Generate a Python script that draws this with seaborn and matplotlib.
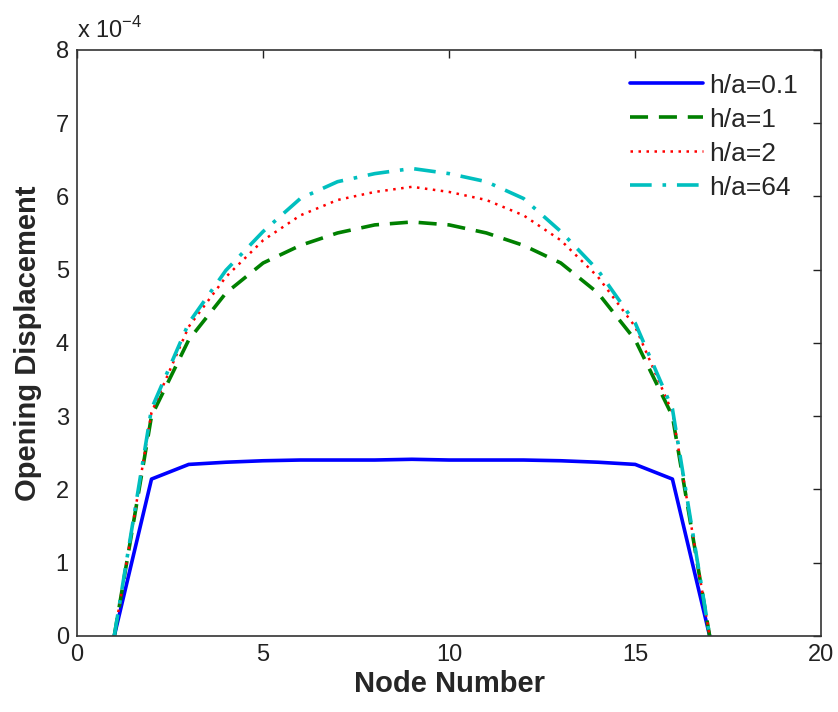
import numpy as np
import pandas as pd
import matplotlib
matplotlib.use("Agg")
import matplotlib.pyplot as plt
import seaborn as sns

nodes = list(range(1, 18))
# Opening displacement values, in units of 1e-4
ha_01 = [0, 2.14, 2.34, 2.37, 2.39, 2.40, 2.40, 2.40, 2.41, 2.40, 2.40, 2.40, 2.39, 2.37, 2.34, 2.14, 0]
ha_1 = [0, 3.00, 4.04, 4.68, 5.09, 5.33, 5.50, 5.61, 5.65, 5.61, 5.50, 5.33, 5.09, 4.68, 4.04, 3.00, 0]
ha_2 = [0, 3.05, 4.22, 4.90, 5.40, 5.74, 5.95, 6.06, 6.13, 6.06, 5.95, 5.74, 5.40, 4.90, 4.22, 3.05, 0]
ha_64 = [0, 3.10, 4.27, 4.99, 5.52, 5.97, 6.20, 6.31, 6.38, 6.31, 6.20, 5.97, 5.52, 4.99, 4.27, 3.10, 0]
labels = ["h/a=0.1", "h/a=1", "h/a=2", "h/a=64"]
x_ticks = [0, 5, 10, 15, 20]
y_ticks = [0, 1, 2, 3, 4, 5, 6, 7, 8]

sns.set_style("white")
plt.rcParams["font.family"] = ["Liberation Sans", "DejaVu Sans"]

fig = plt.figure(figsize=(8.38, 7.12), dpi=100)
ax = fig.add_axes([0.092, 0.107, 0.888, 0.823])

series = [ha_01, ha_1, ha_2, ha_64]
colors = ["#0000FF", "#008000", "#FF0000", "#00BFBF"]
styles = ["-", (0, (5, 3)), (0, (1, 2.2)), (0, (6, 3, 1, 3))]
widths = [2.6, 2.6, 1.8, 2.6]

for vals, lab, c, ls, lw in zip(series, labels, colors, styles, widths):
    df = pd.DataFrame({"node": nodes, "disp": vals})
    sns.lineplot(data=df, x="node", y="disp", ax=ax, color=c, linestyle=ls,
                 linewidth=lw, label=lab)

ax.set_xlim(0, 20)
ax.set_ylim(0, 8)
ax.set_xticks(x_ticks)
ax.set_yticks(y_ticks)
ax.tick_params(direction="in", length=6, width=1, labelsize=17, colors="#222222",
               top=True, right=True, pad=6)
for sp in ax.spines.values():
    sp.set_color("#333333")
    sp.set_linewidth(1.2)

ax.set_xlabel("Node Number", fontsize=21, fontweight="bold", labelpad=3)
ax.set_ylabel("Opening Displacement", fontsize=21, fontweight="bold", labelpad=10)
ax.text(0.0, 1.012, r"x 10$^{\mathregular{-4}}$", transform=ax.transAxes,
        fontsize=17, ha="left", va="bottom", color="#222222")

leg = ax.legend(loc="upper right", frameon=False, fontsize=19, handlelength=2.8,
                handletextpad=0.2, labelspacing=0.38, borderaxespad=0.5)

fig.savefig("out.png", dpi=100)
